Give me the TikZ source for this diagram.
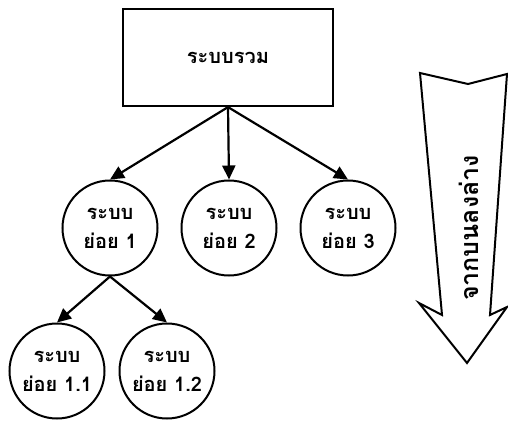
\documentclass[tikz,border=0pt]{standalone}
\usepackage{fontspec}
\newfontfamily\thaifont[Script=Thai]{Loma}
\usetikzlibrary{arrows.meta}
\begin{document}
\begin{tikzpicture}[x=1pt,y=-1pt,
  every node/.style={font=\thaifont\bfseries\fontsize{20}{26}\selectfont},
  sysbox/.style={draw,line width=2.2pt,minimum width=210pt,minimum height=97pt,inner sep=0pt},
  subsys/.style={draw,circle,line width=2pt,minimum size=95pt,inner sep=0pt,align=center},
  link/.style={line width=2.2pt,-{Triangle[length=14pt,width=13pt]}},
  bigarrow/.style={line width=2pt,line join=miter}]
\useasboundingbox (0,0) rectangle (508,422);
% top-level system
\node[sysbox] (top) at (228,57.5) {ระบบรวม};
% first-level subsystems
\node[subsys] (s1) at (110,228) {ระบบ\\[3pt]ย่อย 1};
\node[subsys] (s2) at (229,228) {ระบบ\\[3pt]ย่อย 2};
\node[subsys] (s3) at (348,228) {ระบบ\\[3pt]ย่อย 3};
% second-level subsystems
\node[subsys] (s11) at (57,371) {ระบบ\\[3pt]ย่อย 1.1};
\node[subsys] (s12) at (167,371) {ระบบ\\[3pt]ย่อย 1.2};
% hierarchy links
\draw[link] (top.south) -- (s1.north);
\draw[link] (top.south) -- (s2.north);
\draw[link] (top.south) -- (s3.north);
\draw[link] (s1.south) -- (s11.north);
\draw[link] (s1.south) -- (s12.north);
% top-down direction arrow
\draw[bigarrow] (420,73) -- (468,84) -- (507,74) -- (490,315) -- (507,307)
  -- (467,363) -- (419,303) -- (442,315) -- cycle;
\node[rotate=90,font=\thaifont\bfseries\fontsize{25}{30}\selectfont] (dir) at (469,228) {จากบนลงล่าง};
\end{tikzpicture}
\end{document}
